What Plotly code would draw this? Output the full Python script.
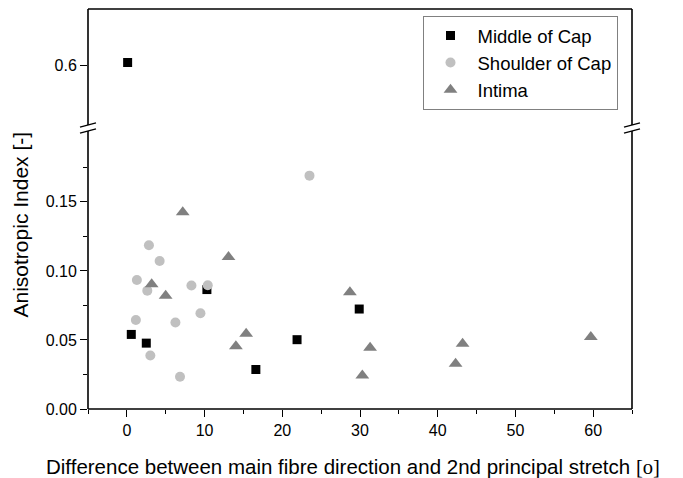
import plotly.graph_objects as go

# ---- data ----
series_names = ["Middle of Cap", "Shoulder of Cap", "Intima"]

middle_x = [0.1, 0.57, 2.5, 10.3, 16.6, 21.9, 29.9]
middle_y = [0.602, 0.054, 0.0477, 0.0865, 0.0286, 0.0502, 0.0724]

shoulder_x = [23.5, 2.84, 4.22, 1.29, 2.63, 8.31, 10.41, 1.16, 6.25, 9.47, 3.02, 6.84]
shoulder_y = [0.169, 0.1186, 0.1072, 0.0934, 0.0857, 0.0894, 0.0896, 0.0644, 0.0627, 0.0693, 0.0388, 0.0234]

intima_x = [7.19, 13.08, 3.19, 4.99, 15.35, 14.03, 28.7, 31.3, 30.3, 43.2, 42.3, 59.7]
intima_y = [0.1425, 0.110, 0.0903, 0.0821, 0.0545, 0.0455, 0.0845, 0.0444, 0.0243, 0.0473, 0.0328, 0.0521]

x_ticks = [0, 10, 20, 30, 40, 50, 60]
y_low_ticks = [0.0, 0.05, 0.10, 0.15]
y_low_labels = ["0.00", "0.05", "0.10", "0.15"]
y_low_minor = [0.025, 0.075, 0.125, 0.175]
y_high_ticks = [0.6]
y_high_labels = ["0.6"]

X_RANGE = [-5, 65]
LOW_RANGE = [0, 0.2035]
HIGH_RANGE = [0.5545, 0.6408]

# ---- styles ----
FONT = "Liberation Sans"
styles = [
    dict(symbol="square", size=9, color="#000000"),
    dict(symbol="circle", size=10, color="#c0c0c0"),
    dict(symbol="triangle-up", size=12, color="#808080"),
]

fig = go.Figure()
data = [(middle_x, middle_y), (shoulder_x, shoulder_y), (intima_x, intima_y)]
for name, (xs, ys), st in zip(series_names, data, styles):
    lx = [x for x, y in zip(xs, ys) if y <= LOW_RANGE[1]]
    ly = [y for y in ys if y <= LOW_RANGE[1]]
    hx = [x for x, y in zip(xs, ys) if y > LOW_RANGE[1]]
    hy = [y for y in ys if y > LOW_RANGE[1]]
    fig.add_trace(go.Scatter(x=lx, y=ly, mode="markers", name=name,
                             legendgroup=name, marker=dict(st, line=dict(width=0)),
                             yaxis="y", xaxis="x"))
    if hx:
        fig.add_trace(go.Scatter(x=hx, y=hy, mode="markers", name=name,
                                 legendgroup=name, showlegend=False,
                                 marker=dict(st, line=dict(width=0)),
                                 yaxis="y2", xaxis="x"))

# plot area in page pixels (page has an 8px body margin)
PW, PH = 544, 400
D = (409 - 128) / 400.0
gap_lo = (409 - 131) / 400.0
gap_hi = (409 - 125) / 400.0

LW = 1.6
axis_common = dict(showgrid=False, zeroline=False, showline=False,
                   ticks="outside", tickcolor="black", tickwidth=1.3, ticklen=7,
                   tickfont=dict(family=FONT, size=16, color="black"))

fig.update_layout(
    width=683, height=478,
    margin=dict(l=80, r=59, t=1, b=77),
    paper_bgcolor="white", plot_bgcolor="white",
    font=dict(family=FONT, color="black"),
    xaxis=dict(axis_common, range=X_RANGE, tickvals=x_ticks, anchor="y",
               minor=dict(dtick=5, tick0=-5, ticks="outside", ticklen=4,
                          tickcolor="black", tickwidth=1.3)),
    yaxis=dict(axis_common, domain=[0, D], range=LOW_RANGE, tickvals=y_low_ticks,
               ticktext=y_low_labels, anchor="x",
               minor=dict(tickvals=y_low_minor, ticks="outside", ticklen=4,
                          tickcolor="black", tickwidth=1.3)),
    yaxis2=dict(axis_common, domain=[D, 1], range=HIGH_RANGE, tickvals=y_high_ticks,
                ticktext=y_high_labels, anchor="x"),
    showlegend=True,
    legend=dict(x=(423 - 88.5) / PW, y=(409 - 16) / PH, xanchor="left", yanchor="top",
                bordercolor="#808080", borderwidth=1, bgcolor="white",
                font=dict(family=FONT, size=18.5, color="black"),
                tracegroupgap=0, itemsizing="trace", itemwidth=44),
)

shapes = []
def line(x0, y0, x1, y1, w=LW):
    shapes.append(dict(type="line", xref="paper", yref="paper", x0=x0, y0=y0, x1=x1, y1=y1,
                       line=dict(color="black", width=w)))

line(0, 0, 1, 0)
line(0, 1, 1, 1)
for xe in (0, 1):
    line(xe, 0, xe, gap_lo)
    line(xe, gap_hi, xe, 1)
    for yc in (gap_lo, gap_hi):
        line(xe - 8 / PW, yc - 2.2 / PH, xe + 8 / PW, yc + 2.2 / PH, w=1.3)

fig.update_layout(shapes=shapes)

fig.add_annotation(text="Difference between main fibre direction and 2nd principal stretch "
                        "<span style='font-family:Liberation Serif'>[ο]</span>",
                   xref="paper", yref="paper", x=(353.5 - 88.5) / PW, y=(409 - 466) / PH,
                   xanchor="center", yanchor="middle", showarrow=False,
                   font=dict(family=FONT, size=20.5, color="black"))
fig.add_annotation(text="Anisotropic Index [-]", textangle=-90,
                   xref="paper", yref="paper", x=(20 - 88.5) / PW, y=(409 - 225) / PH,
                   xanchor="center", yanchor="middle", showarrow=False,
                   font=dict(family=FONT, size=21, color="black"))

fig.write_html("out.html")
